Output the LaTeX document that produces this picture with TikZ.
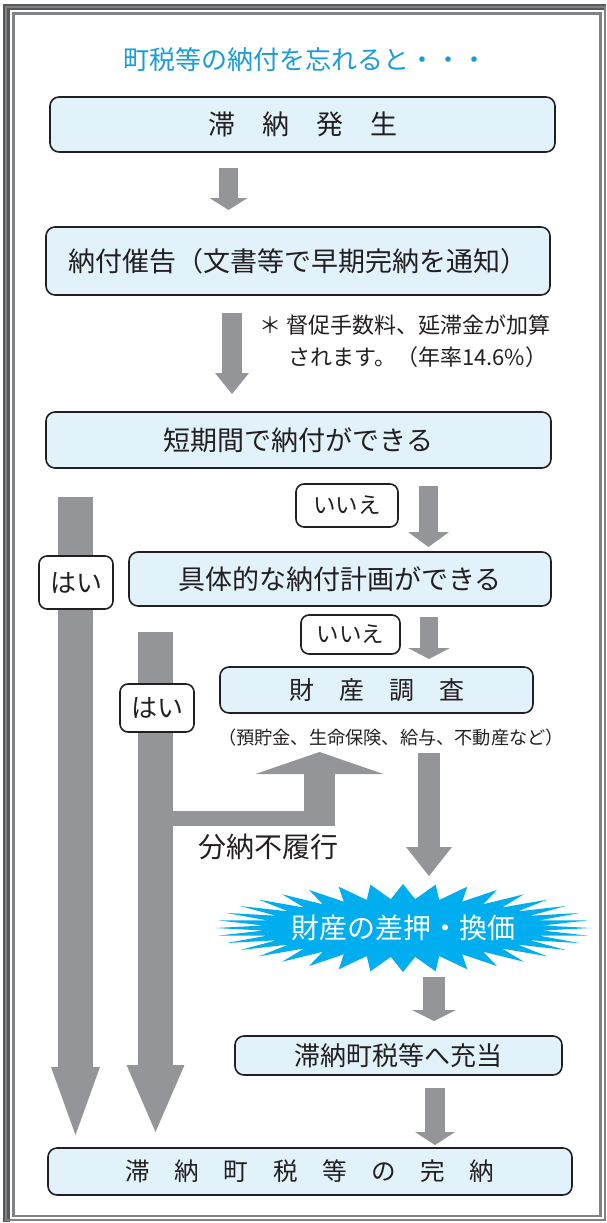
\documentclass[tikz,border=0pt]{standalone}
\usepackage{fontspec}
\setmainfont{Noto Sans CJK JP}
\usetikzlibrary{arrows.meta, positioning}
\definecolor{boxfill}{HTML}{E1F2FB}
\definecolor{boxline}{HTML}{231F20}
\definecolor{arrowgray}{HTML}{939598}
\definecolor{titlecyan}{HTML}{1A9CD8}
\definecolor{burstcyan}{HTML}{00AEEF}
\definecolor{framedark}{HTML}{58595B}
\definecolor{framegray}{HTML}{808285}
\tikzset{
    flowbox/.style={
        rectangle, draw=boxline, line width=1.6pt, rounded corners=9pt,
        fill=boxfill, inner sep=0pt, text=boxline,
        font=\fontsize{27}{32}\selectfont
    },
    answer/.style={
        rectangle, draw=boxline, line width=1.6pt, rounded corners=8pt,
        fill=white, inner sep=0pt, text=boxline
    },
    grayarrow/.style n args={3}{
        draw=arrowgray, line width=#1,
        -{Triangle[width=#2, length=#3, line width=0pt]}
    },
    note/.style={inner sep=0pt, text=boxline},
    burstfill/.style={fill=burstcyan}
}

\begin{document}
\begin{tikzpicture}[x=1pt, y=-1pt]
\useasboundingbox (0,0) rectangle (606,1223);

% Frame
\fill[framedark] (3,4) rectangle (606,10);
\fill[framedark] (3,4) rectangle (10,1222);
\draw[framegray, line width=2pt] (6,7) rectangle (605,1220);
\draw[framegray, line width=2.5pt] (13.5,13.5) rectangle (600.5,1216);

% Title
\node[text=titlecyan, font=\fontsize{26}{30}\selectfont] (title) at (305,60) {町税等の納付を忘れると・・・};

% Main boxes
\node[flowbox, minimum width=505pt, minimum height=55pt] (occur) at (302.5,124.5) {滞　納　発　生};
\node[flowbox, minimum width=504pt, minimum height=68pt] (notice) at (298,261) {納付催告（文書等で早期完納を通知）};
\node[flowbox, minimum width=505pt, minimum height=56pt] (shortterm) at (298.5,440) {短期間で納付ができる};
\node[flowbox, minimum width=422pt, minimum height=54pt] (plan) at (340,579) {具体的な納付計画ができる};
\node[flowbox, minimum width=313pt, minimum height=46pt, font=\fontsize{25}{30}\selectfont] (survey) at (376.5,690) {財　産　調　査};
\node[flowbox, minimum width=327pt, minimum height=39pt, font=\fontsize{26}{30}\selectfont] (allot) at (398.5,1055.5) {滞納町税等へ充当};
\node[flowbox, minimum width=524pt, minimum height=47pt, font=\fontsize{24.6}{30}\selectfont] (complete) at (310,1171.5) {滞　納　町　税　等　の　完　納};

% Notes
\node[note, anchor=west, align=left, font=\fontsize{22}{32}\selectfont] (extra) at (259,341) {＊ 督促手数料、延滞金が加算\\\hspace*{29pt}されます。（年率14.6\%）};
\node[note, font=\fontsize{18.2}{20}\selectfont] (assets) at (391,738) {（預貯金、生命保険、給与、不動産など）};
\node[note, font=\fontsize{28}{32}\selectfont] (default) at (268,847) {分納不履行};

% Arrow ends
\coordinate (a1s) at (228.5,168);  \coordinate (a1e) at (228.5,210);
\coordinate (a2s) at (232,313);    \coordinate (a2e) at (232,394);
\coordinate (a3s) at (428.5,486);  \coordinate (a3e) at (428.5,547);
\coordinate (a4s) at (429,617);    \coordinate (a4e) at (429,659);
\coordinate (a5s) at (429,753);    \coordinate (a5e) at (429,876);
\coordinate (a6s) at (434,977);    \coordinate (a6e) at (434,1021);
\coordinate (a7s) at (435,1088);   \coordinate (a7e) at (435,1145);
\coordinate (yes1s) at (75.5,497); \coordinate (yes1e) at (75.5,1135);
\coordinate (yes2s) at (155.5,632); \coordinate (yes2e) at (155.5,1132);
\coordinate (brs) at (155.5,818.5); \coordinate (brc) at (335,818.5);
\coordinate (brup) at (319.5,826); \coordinate (brtip) at (319.5,752);

% Flow arrows
\draw[grayarrow={19pt}{38pt}{12pt}] (a1s) -- (a1e);
\draw[grayarrow={20pt}{34pt}{21pt}] (a2s) -- (a2e);
\draw[grayarrow={19pt}{41pt}{15pt}] (a3s) -- (a3e);
\draw[grayarrow={18pt}{42pt}{11pt}] (a4s) -- (a4e);
\draw[grayarrow={22pt}{46pt}{29pt}] (a5s) -- (a5e);
\draw[grayarrow={22pt}{44pt}{11pt}] (a6s) -- (a6e);
\draw[grayarrow={20pt}{40pt}{13pt}] (a7s) -- (a7e);
\draw[grayarrow={35pt}{49pt}{68pt}] (yes1s) -- (yes1e);
\draw[grayarrow={35pt}{58pt}{67pt}] (yes2s) -- (yes2e);
\draw[draw=arrowgray, line width=15pt] (brs) -- (brc);
\draw[grayarrow={31pt}{128pt}{22pt}] (brup) -- (brtip);

% Answers
\node[answer, minimum width=74pt, minimum height=53pt, font=\fontsize{26}{30}\selectfont] (yes1) at (76,582.5) {はい};
\node[answer, minimum width=74pt, minimum height=48pt, font=\fontsize{26}{30}\selectfont] (yes2) at (157,708) {はい};
\node[answer, minimum width=102pt, minimum height=43pt, font=\fontsize{22.5}{26}\selectfont] (no1) at (347,505.5) {いいえ};
\node[answer, minimum width=99pt, minimum height=39pt, font=\fontsize{22.5}{26}\selectfont] (no2) at (350.5,634.5) {いいえ};

% Seizure burst
\coordinate (burstc) at (403,928);
\fill[burstfill, shift={(burstc)}] (0:188pt and 44pt)
    \foreach \a in {0,10,...,350} { -- ({\a+5}:140pt and 29pt) -- ({\a+10}:188pt and 44pt) } -- cycle;
\node[text=white, font=\fontsize{28}{32}\selectfont] (seize) at (burstc) {財産の差押・換価};

\end{tikzpicture}
\end{document}
